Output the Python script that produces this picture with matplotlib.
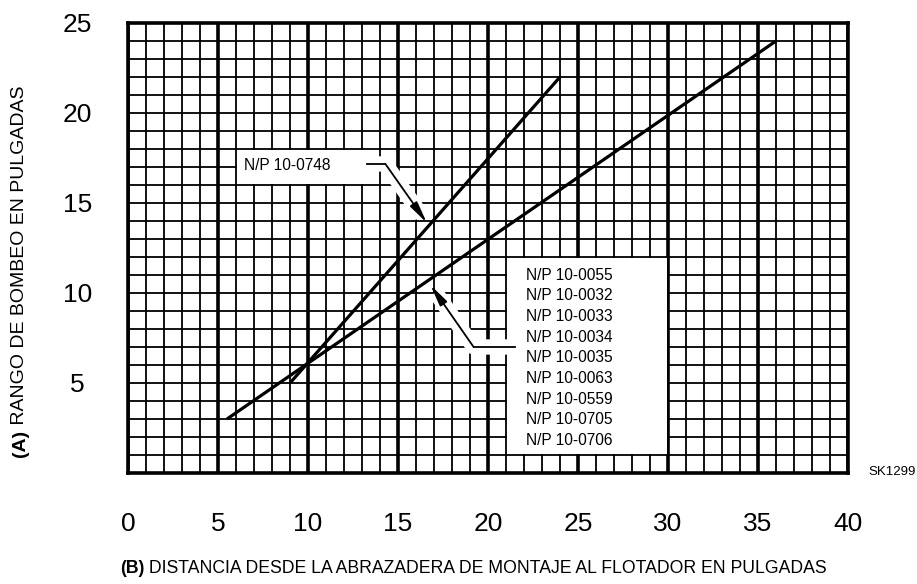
import matplotlib
matplotlib.use("Agg")
import matplotlib.pyplot as plt
from matplotlib.patches import Rectangle

# --- data ---
x_ticks = [0, 5, 10, 15, 20, 25, 30, 35, 40]
y_ticks = [5, 10, 15, 20, 25]

# N/P 10-0748 (steep line)
steep_x = [9.0, 24.0]
steep_y = [5.0, 22.0]

# the other group of part numbers (shallow line)
shallow_x = [5.5, 36.0]
shallow_y = [3.0, 24.0]

steep_label = "N/P 10-0748"
shallow_labels = ["N/P 10-0055", "N/P 10-0032", "N/P 10-0033", "N/P 10-0034",
                  "N/P 10-0035", "N/P 10-0063", "N/P 10-0559", "N/P 10-0705",
                  "N/P 10-0706"]

plt.rcParams['font.family'] = ["Liberation Sans", "DejaVu Sans"]

fig = plt.figure(figsize=(9.17, 5.84), dpi=100)
ax = fig.add_axes([128 / 917, 111 / 584, 720 / 917, 450 / 584])
ax.set_xlim(0, 40)
ax.set_ylim(0, 25)

# grid paper: thin line every inch, heavy verticals every 5
for v in range(0, 41):
    ax.axvline(v, color='black', lw=2.6 if v % 5 == 0 else 1.3, zorder=1)
for h in range(0, 26):
    ax.axhline(h, color='black', lw=1.3, zorder=1)

for s in ax.spines.values():
    s.set_linewidth(2.6)
    s.set_zorder(6)

# white label boxes cut out of the grid
ax.add_patch(Rectangle((6.05, 16.05), 7.9, 1.9, facecolor='white', edgecolor='none', zorder=2))
ax.add_patch(Rectangle((21.05, 1.05), 8.9, 10.9, facecolor='white', edgecolor='none', zorder=2))

# the two curves
ax.plot(steep_x, steep_y, color='black', lw=2.3, solid_capstyle='butt', zorder=4)
ax.plot(shallow_x, shallow_y, color='black', lw=2.3, solid_capstyle='butt', zorder=4)


def leader(x0, x1, y, tip):
    # white halo so the leader stands clear of the grid
    ax.plot([x0, x1, tip[0] + (x1 - tip[0]) * 0.12], [y, y, tip[1] + (y - tip[1]) * 0.12],
            color='white', lw=11, solid_capstyle='butt', zorder=3)
    ax.plot([x0, x1], [y, y], color='black', lw=1.3, zorder=5)
    ax.annotate('', xy=tip, xytext=(x1, y),
                arrowprops=dict(arrowstyle='-|>,head_length=1.3,head_width=0.25',
                                color='black', lw=1.3, shrinkA=0, shrinkB=0),
                zorder=5)


leader(13.3, 14.3, 17.17, (16.6, 13.9))
leader(21.5, 19.2, 7.0, (16.8, 10.45))

ax.text(6.45, 17.1, steep_label, fontsize=11.2, va='center', ha='left', zorder=6)
for i, lab in enumerate(shallow_labels):
    ax.text(22.1, 11.0 - i * 1.15, lab, fontsize=11.2, va='center', ha='left', zorder=6)

# ticks
ax.set_xticks(x_ticks)
ax.set_xticklabels([str(t) for t in x_ticks])
ax.set_yticks(y_ticks)
ax.set_yticklabels([str(t) for t in y_ticks])
ax.tick_params(axis='x', length=0, pad=28, labelsize=19)
ax.tick_params(axis='y', length=0, pad=36.5, labelsize=19)
for lab in ax.get_yticklabels():
    lab.set_ha('center')

# axis titles with bold letter prefix
tb = fig.text(120 / 917, 11 / 584, "(B)", fontsize=12.7, fontweight='bold', va='baseline', ha='left')
ax.annotate(" DISTANCIA DESDE LA ABRAZADERA DE MONTAJE AL FLOTADOR EN PULGADAS",
            xy=(1, 0), xycoords=tb, va='bottom', ha='left', fontsize=12.7,
            annotation_clip=False)

ta = fig.text(20 / 917, 127 / 584, "(A)", fontsize=14, fontweight='bold',
              rotation=90, va='bottom', ha='center')
ax.annotate(" RANGO DE BOMBEO EN PULGADAS", xy=(0.5, 1), xycoords=ta, rotation=90,
            va='bottom', ha='center', fontsize=14, annotation_clip=False)

fig.text(868 / 917, 112 / 584, "SK1299", fontsize=9.5, va='center', ha='left')

fig.savefig("out.png", dpi=100)
